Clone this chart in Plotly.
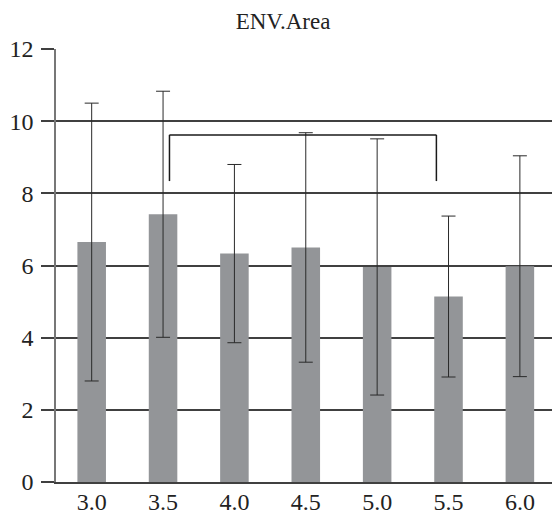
import plotly.graph_objects as go

# Category labels and summary statistics
categories = ["3.0", "3.5", "4.0", "4.5", "5.0", "5.5", "6.0"]
means = [6.65, 7.42, 6.33, 6.50, 5.96, 5.14, 5.98]
sds = [3.85, 3.41, 2.47, 3.18, 3.55, 2.23, 3.06]

# Significance bracket between 3.5 and 5.5
bracket_x = [1.09, 4.83]
bracket_y = [8.34, 9.62]

serif = "Times New Roman, Liberation Serif, Times, serif"
text_color = "#222222"

fig = go.Figure(
    go.Bar(
        x=categories,
        y=means,
        width=0.4,
        marker=dict(color="#939598", line=dict(width=0)),
        error_y=dict(
            type="data",
            array=sds,
            symmetric=True,
            color="#2a2a2a",
            thickness=1,
            width=7,
        ),
    )
)

line_style = dict(color="#1a1a1a", width=1.5)
x0, x1 = bracket_x
ylo, yhi = bracket_y
for xa, ya, xb, yb in [(x0, ylo, x0, yhi), (x0, yhi, x1, yhi), (x1, yhi, x1, ylo)]:
    fig.add_shape(type="line", xref="x", yref="y", x0=xa, y0=ya, x1=xb, y1=yb,
                  line=line_style, layer="above")

fig.update_layout(
    template="none",
    width=552,
    height=517,
    margin=dict(l=56, r=0, t=49, b=35, autoexpand=False),
    paper_bgcolor="white",
    plot_bgcolor="white",
    showlegend=False,
    font=dict(family=serif, size=24, color=text_color),
    title=dict(
        text="ENV.Area",
        x=283 / 552,
        xanchor="center",
        xref="container",
        y=1 - 21 / 517,
        yanchor="middle",
        font=dict(family=serif, size=23, color=text_color),
    ),
)

fig.update_xaxes(
    type="category",
    automargin=False,
    range=[-0.5, 6.45],
    showgrid=False,
    zeroline=False,
    showline=True,
    linecolor="#404040",
    linewidth=1.5,
    ticks="",
    ticklabelstandoff=-3,
    tickfont=dict(family=serif, size=24, color=text_color),
)

fig.update_yaxes(
    automargin=False,
    range=[0, 12],
    dtick=2,
    tick0=0,
    showgrid=True,
    gridcolor="#404040",
    gridwidth=1.5,
    zeroline=False,
    showline=True,
    linecolor="#777777",
    linewidth=1.5,
    ticks="outside",
    ticklen=13,
    tickcolor="#404040",
    tickwidth=1.5,
    ticklabelstandoff=3,
    tickfont=dict(family=serif, size=24, color=text_color),
)

fig.write_html("out.html")
